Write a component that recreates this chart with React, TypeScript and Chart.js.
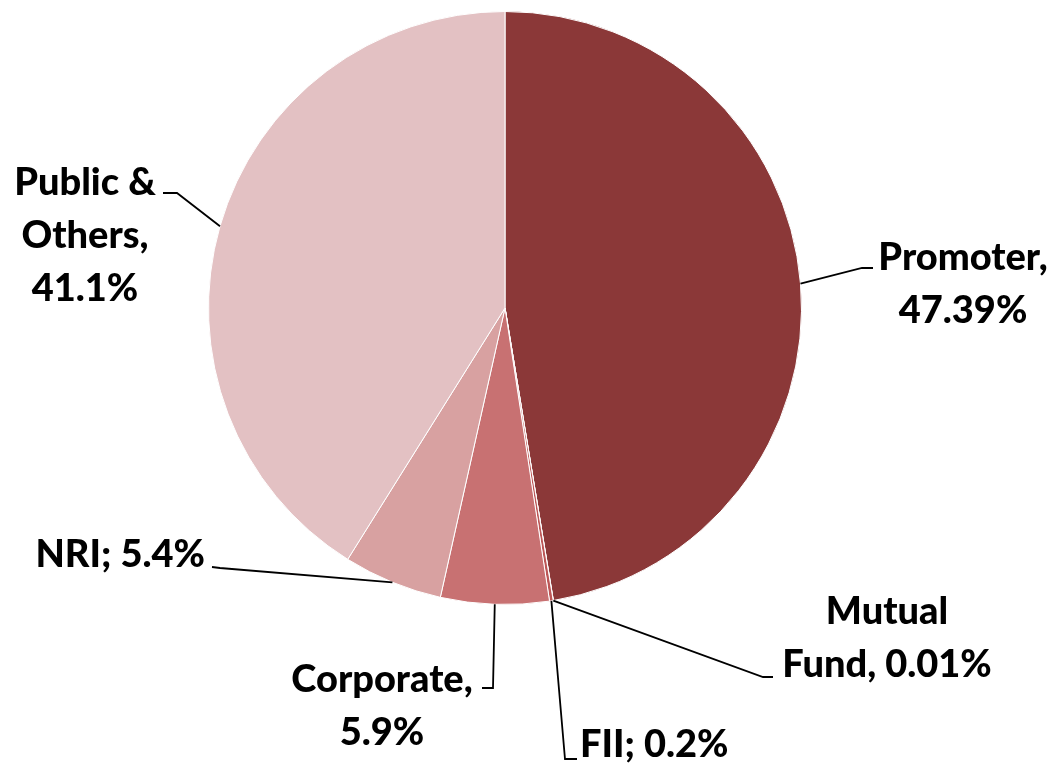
import React, { useEffect, useRef } from "react";
import { Chart, registerables } from "chart.js";

Chart.register(...registerables);

const categories = ["Promoter", "Mutual Fund", "FII", "Corporate", "NRI", "Public & Others"];
const shareValues = [47.39, 0.01, 0.2, 5.9, 5.4, 41.1];
const labelLines = [
  ["Promoter,", "47.39%"],
  ["Mutual", "Fund, 0.01%"],
  ["FII; 0.2%"],
  ["Corporate,", "5.9%"],
  ["NRI; 5.4%"],
  ["Public &", "Others,", "41.1%"],
];
const sliceColors = ["#8B3838", "#A34343", "#BC5656", "#C87172", "#D8A1A1", "#E3C1C3"];

// label layout: text anchor, alignment, and leader-line bend points
const labelLayout = [
  { x: 963, y: 258, align: "center", bends: [[862, 268], [873, 268]] },
  { x: 887, y: 612, align: "center", bends: [[763, 677], [773, 677]] },
  { x: 580, y: 745, align: "left", bends: [[565, 759], [577, 759]] },
  { x: 382, y: 680, align: "center", bends: [[493, 688], [482, 688]] },
  { x: 205, y: 555, align: "right", bends: [[220, 568], [212, 567]] },
  { x: 85, y: 183, align: "center", bends: [[177, 193], [163, 193]] },
];

const FONT = "900 38px Lato, 'Open Sans', sans-serif";
const LINE_H = 53;

const leaderPlugin = {
  id: "leaderLabels",
  afterDatasetsDraw(chart: any) {
    const ctx = chart.ctx;
    const meta = chart.getDatasetMeta(0);
    ctx.save();
    meta.data.forEach((arc: any, i: number) => {
      const lay = labelLayout[i];
      const mid = (arc.startAngle + arc.endAngle) / 2;
      const ax = arc.x + Math.cos(mid) * arc.outerRadius;
      const ay = arc.y + Math.sin(mid) * arc.outerRadius;
      ctx.beginPath();
      ctx.strokeStyle = "#000";
      ctx.lineWidth = 1.8;
      ctx.moveTo(ax, ay);
      lay.bends.forEach((p) => ctx.lineTo(p[0], p[1]));
      ctx.stroke();
      ctx.fillStyle = "#000";
      ctx.font = FONT;
      ctx.textAlign = lay.align as CanvasTextAlign;
      ctx.textBaseline = "middle";
      labelLines[i].forEach((t, k) => ctx.fillText(t, lay.x, lay.y + k * LINE_H));
    });
    ctx.restore();
  },
};

export default function App() {
  const ref = useRef<HTMLCanvasElement>(null);
  useEffect(() => {
    document.body.style.margin = "0";
    const chart = new Chart(ref.current!, {
      type: "pie",
      data: {
        labels: categories,
        datasets: [
          {
            data: shareValues,
            backgroundColor: sliceColors,
            borderColor: "#ffffff",
            borderWidth: 1,
          },
        ],
      },
      options: {
        animation: false,
        responsive: false,
        layout: { padding: { left: 208, right: 255, top: 11, bottom: 163 } },
        plugins: { legend: { display: false }, tooltip: { enabled: false } },
      },
      plugins: [leaderPlugin],
    });
    return () => chart.destroy();
  }, []);
  return (
    <div style={{ width: 1057, height: 768, background: "#fff" }}>
      <canvas ref={ref} width={1057} height={768} style={{ display: "block" }} />
    </div>
  );
}
